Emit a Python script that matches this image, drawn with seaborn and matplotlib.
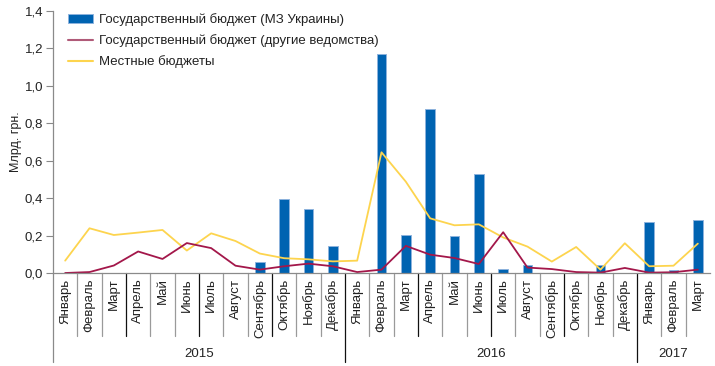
import numpy as np
import pandas as pd
import matplotlib
matplotlib.use("Agg")
import matplotlib.pyplot as plt
import seaborn as sns
from matplotlib.patches import Patch
from matplotlib.lines import Line2D

months = ["Январь", "Февраль", "Март", "Апрель", "Май", "Июнь", "Июль", "Август",
          "Сентябрь", "Октябрь", "Ноябрь", "Декабрь",
          "Январь", "Февраль", "Март", "Апрель", "Май", "Июнь", "Июль", "Август",
          "Сентябрь", "Октябрь", "Ноябрь", "Декабрь",
          "Январь", "Февраль", "Март"]
years = ["2015", "2016", "2017"]
year_counts = [12, 12, 3]

moz_budget = [0, 0, 0, 0, 0, 0, 0, 0, 0.059, 0.396, 0.342, 0.146,
              0, 1.169, 0.203, 0.877, 0.196, 0.531, 0.021, 0.045, 0, 0, 0.043, 0,
              0.274, 0.018, 0.283]
other_agencies = [0.0, 0.005, 0.04, 0.115, 0.075, 0.16, 0.133, 0.039, 0.018, 0.036, 0.05, 0.036,
                  0.005, 0.018, 0.145, 0.098, 0.08, 0.048, 0.218, 0.029, 0.021, 0.005, 0.002, 0.027,
                  0.002, 0.004, 0.018]
local_budgets = [0.066, 0.239, 0.203, 0.216, 0.23, 0.12, 0.212, 0.171, 0.104, 0.079, 0.073, 0.062,
                 0.066, 0.645, 0.488, 0.292, 0.255, 0.26, 0.19, 0.141, 0.061, 0.139, 0.018, 0.159,
                 0.036, 0.039, 0.157]

labels = ["Государственный бюджет (МЗ Украины)",
          "Государственный бюджет (другие ведомства)",
          "Местные бюджеты"]

sns.set_theme(style="white")
plt.rcParams['font.family'] = ['Liberation Sans', 'DejaVu Sans']

BLUE = "#0063B1"
RED = "#A3174A"
YELLOW = "#FDD44E"
TEXT = "#222222"

df = pd.DataFrame({"idx": np.arange(len(months)), "moz": moz_budget,
                   "other": other_agencies, "local": local_budgets})

fig = plt.figure(figsize=(7.15, 3.66), dpi=100)
ax = fig.add_axes([53/715, 93/366, 657/715, 262/366])

sns.barplot(data=df, x="idx", y="moz", color=BLUE, width=0.41, saturation=1,
            edgecolor="#8DB3DD", linewidth=0.7, ax=ax)
sns.lineplot(data=df, x="idx", y="local", color=YELLOW, linewidth=1.3, ax=ax)
sns.lineplot(data=df, x="idx", y="other", color=RED, linewidth=1.3, ax=ax)

n = len(months)
ax.set_xlim(-0.5, n - 0.5)
ax.set_ylim(0, 1.4)
ax.set_yticks(np.arange(0, 1.41, 0.2))
ax.set_yticklabels([f"{v:.1f}".replace(".", ",") for v in np.arange(0, 1.41, 0.2)],
                   fontsize=9.5, color=TEXT)
ax.set_ylabel("Млрд. грн.", fontsize=9, labelpad=2, color=TEXT)
ax.set_xlabel("")
ax.set_xticks(range(n))
ax.set_xticklabels(months, rotation=90, fontsize=9.5, color=TEXT, va="top")
ax.tick_params(axis="x", length=0, pad=4)
ax.tick_params(axis="y", length=5, width=0.8, color="#888888", pad=2, left=True)
for s in ["top", "right"]:
    ax.spines[s].set_visible(False)
for s in ["left", "bottom"]:
    ax.spines[s].set_color("#8a8a8a")
    ax.spines[s].set_linewidth(0.9)

trans = ax.get_xaxis_transform()
month_bottom = -(336 - 273) / 262
year_bottom = -(362 - 273) / 262
year_starts = np.cumsum([0] + year_counts[:-1])
for b in range(1, n):
    if b in year_starts:
        ax.plot([b - 0.5, b - 0.5], [0, year_bottom], transform=trans, color="#111111",
                lw=0.9, clip_on=False)
    elif b % 3 == 0:
        ax.plot([b - 0.5, b - 0.5], [0, month_bottom], transform=trans, color="#111111",
                lw=0.9, clip_on=False)
    else:
        ax.plot([b - 0.5, b - 0.5], [0, month_bottom], transform=trans, color="#9a9a9a",
                lw=0.9, clip_on=False)
ax.plot([-0.5, -0.5], [0, year_bottom], transform=trans, color="#8a8a8a", lw=0.9, clip_on=False)

year_y = -(354 - 273) / 262
for y, s, c in zip(years, year_starts, year_counts):
    ax.text(s - 0.5 + c / 2, year_y, y, transform=trans, ha="center", va="center",
            fontsize=9.5, color=TEXT)

handles = [Patch(facecolor=BLUE, edgecolor="#8DB3DD", linewidth=0.7),
           Line2D([], [], color="#B05A78", lw=1.5),
           Line2D([], [], color=YELLOW, lw=1.5)]
leg = ax.legend(handles, labels, loc="upper left", bbox_to_anchor=(10/657, 1.012), frameon=False,
                fontsize=9.5, handlelength=1.85, handleheight=0.7, handletextpad=0.45,
                labelspacing=0.62, borderaxespad=0)
for t in leg.get_texts():
    t.set_color(TEXT)

fig.savefig("out.png", dpi=100)
